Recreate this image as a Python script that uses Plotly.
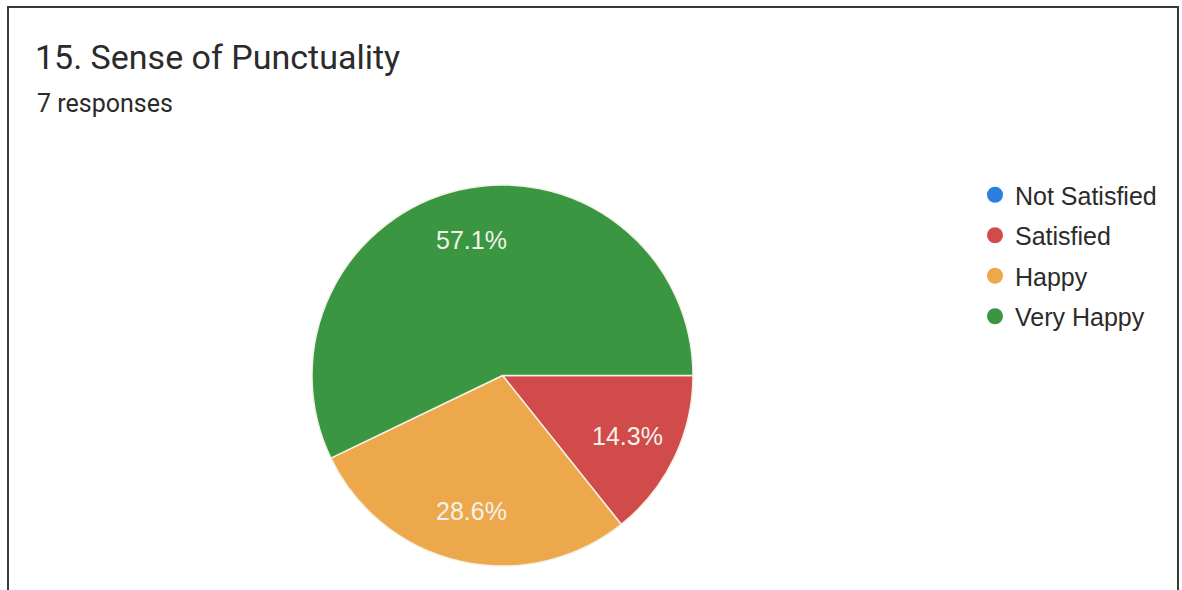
import math
import plotly.graph_objects as go

categories = ["Not Satisfied", "Satisfied", "Happy", "Very Happy"]
counts = [0, 1, 2, 4]
colors = ["#2a7fe0", "#d24b4b", "#eea84c", "#3b9642"]
title_text = "15. Sense of Punctuality"
subtitle_text = "7 responses"

W, H = 1182, 590
dom_x = [312 / W, 693 / W]
dom_y = [(H - 566) / H, (H - 185) / H]

fig = go.Figure()

fig.add_trace(go.Pie(
    labels=categories, values=counts, sort=False, direction="clockwise", rotation=90,
    marker=dict(colors=colors, line=dict(color="#f4f1e6", width=1.5)),
    textinfo="none",
    domain=dict(x=dom_x, y=dom_y),
    showlegend=False, hoverinfo="label+percent",
))

# percentage labels placed at each slice's mid-angle, derived from the data
total = sum(counts)
cx_px = (dom_x[0] + dom_x[1]) / 2 * W
cy_px = (dom_y[0] + dom_y[1]) / 2 * H
R_px = min((dom_x[1] - dom_x[0]) * W, (dom_y[1] - dom_y[0]) * H) / 2
annotations = []
cum = 0
for cat, v in zip(categories, counts):
    if v > 0:
        mid = (cum + v / 2) / total
        ang = math.radians(0 - 360 * mid)  # start at 3 o'clock, clockwise
        r = 0.73 * R_px
        px = cx_px + r * math.cos(ang)
        py = cy_px + r * math.sin(ang)
        annotations.append(dict(
            text=f"{100 * v / total:.1f}%", x=px / W, y=py / H, xref="paper", yref="paper",
            xanchor="center", yanchor="middle", showarrow=False,
            font=dict(family="Arial, Liberation Sans", size=25, color="#f2f2ea")))
    cum += v

for cat, col in zip(categories, colors):
    fig.add_trace(go.Scatter(
        x=[None], y=[None], mode="markers", name=cat, legendgroup=cat,
        marker=dict(color=col, size=20, symbol="circle"),
    ))

annotations.append(dict(text=subtitle_text, x=35 / W, y=1 - 103 / H, xref="paper", yref="paper",
                        xanchor="left", yanchor="middle", showarrow=False,
                        font=dict(family="Roboto", size=25, color="#2b2b2b")))

fig.update_layout(
    width=W, height=H,
    margin=dict(l=0, r=0, t=0, b=0),
    paper_bgcolor="#ffffff", plot_bgcolor="#ffffff",
    xaxis=dict(visible=False), yaxis=dict(visible=False),
    title=dict(text=title_text, x=35 / W, xanchor="left", xref="paper",
               y=1 - 57 / H, yanchor="middle", yref="container",
               font=dict(family="Roboto", size=34, color="#2b2b2b")),
    legend=dict(x=975 / W, y=1 - 172 / H, xanchor="left", yanchor="top",
                traceorder="grouped", tracegroupgap=5,
                font=dict(family="Arial, Liberation Sans", size=25, color="#2b2b2b"),
                bgcolor="rgba(0,0,0,0)"),
    annotations=annotations,
    shapes=[dict(type="path", xref="paper", yref="paper",
                 path=f"M {8/W} 0 L {8/W} {1-7/H} L {1178/W} {1-7/H} L {1178/W} 0",
                 line=dict(color="#3a3a3a", width=2))],
)

fig.write_html("out.html")
